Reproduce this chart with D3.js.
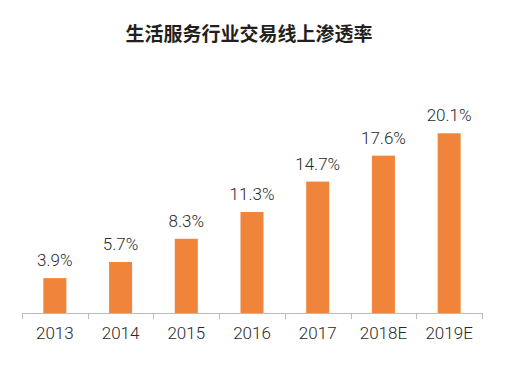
<!DOCTYPE html>
<html><head><meta charset="utf-8">
<script src="https://cdn.jsdelivr.net/npm/d3@7"></script>
<style>body{margin:0;background:#fff;}svg{display:block;}</style>
</head><body>
<script>
const categories = ["2013","2014","2015","2016","2017","2018E","2019E"];
const values = [3.9, 5.7, 8.3, 11.3, 14.7, 17.6, 20.1];
const labels = ["3.9%","5.7%","8.3%","11.3%","14.7%","17.6%","20.1%"];
const title = "生活服务行业交易线上渗透率";

const W = 512, H = 387;
const svg = d3.select("body").append("svg").attr("width", W).attr("height", H);
const x0 = 22, x1 = 482, base = 313;
const x = d3.scaleBand().domain(categories).range([x0, x1]).paddingInner(0.65).paddingOuter(0.325);
const y = d3.scaleLinear().domain([0, 20.1]).range([base, 133.3]);
const font = "Roboto, 'Liberation Sans', Arial, sans-serif";

svg.append("text").attr("x", 249).attr("y", 41).attr("text-anchor", "middle")
  .attr("font-family", "Noto Sans CJK SC").attr("font-weight", "bold").attr("font-size", 19)
  .attr("fill", "#231f20").text(title);

svg.selectAll("rect.bar").data(values).join("rect").attr("class","bar")
  .attr("x", (d,i) => x(categories[i])).attr("width", x.bandwidth())
  .attr("y", d => y(d)).attr("height", d => base - y(d)).attr("fill", "#f0843a");

svg.selectAll("text.lab").data(values).join("text").attr("class","lab")
  .attr("x", (d,i) => x(categories[i]) + x.bandwidth()/2).attr("y", d => y(d) - 12)
  .attr("text-anchor","middle").attr("font-family", font).attr("font-weight", 300)
  .attr("font-size", 17).attr("fill","#2a2a2a").text((d,i) => labels[i]);

const g = svg.append("g").attr("transform", `translate(0,${base})`);
g.append("line").attr("x1", x0).attr("x2", x1).attr("y1", 0.5).attr("y2", 0.5).attr("stroke","#bbb");
const ticks = d3.range(categories.length + 1).map(i => x0 + i * x.step());
g.selectAll("line.tk").data(ticks).join("line").attr("class","tk")
  .attr("x1", d => Math.round(d)+0.5).attr("x2", d => Math.round(d)+0.5).attr("y1", 0).attr("y2", 6).attr("stroke","#bbb");
g.selectAll("text.xl").data(categories).join("text").attr("class","xl")
  .attr("x", d => x(d) + x.bandwidth()/2).attr("y", 25.5).attr("text-anchor","middle")
  .attr("font-family", font).attr("font-weight", 300).attr("font-size", 17).attr("fill","#2a2a2a").text(d => d);
</script>
</body></html>
